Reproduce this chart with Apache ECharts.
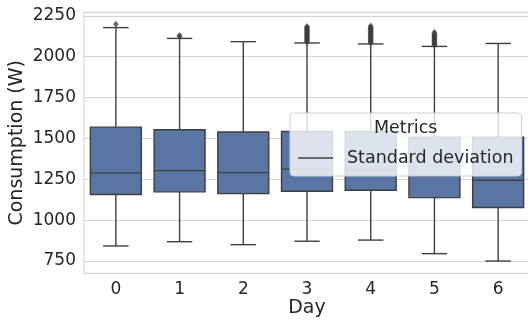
<!DOCTYPE html>
<html>
<head>
<meta charset="utf-8">
<script src="https://cdn.jsdelivr.net/npm/echarts@6/dist/echarts.min.js"></script>
<style>
html,body{margin:0;padding:0;background:#fff;}
#chart{width:528px;height:324px;}
</style>
</head>
<body>
<div id="chart"></div>
<script>
const days = ['0', '1', '2', '3', '4', '5', '6'];
const whiskerLow = [842, 868, 850, 871, 878, 795, 750];
const q1 = [1157, 1173, 1162, 1177, 1183, 1138, 1077];
const median = [1289, 1303, 1291, 1312, 1310, 1271, 1244];
const q3 = [1569, 1553, 1539, 1542, 1542, 1508, 1508];
const whiskerHigh = [2178, 2112, 2092, 2084, 2078, 2063, 2081];
const outliers0 = [2198];
const outliers1 = [2124, 2130];
const outliers2 = [];
const outliers3 = [2090, 2095, 2100, 2105, 2110, 2115, 2120, 2125, 2130, 2135, 2140, 2145, 2150, 2155, 2160, 2165, 2170, 2175, 2180, 2185];
const outliers4 = [2085, 2090, 2095, 2100, 2105, 2110, 2115, 2120, 2125, 2130, 2135, 2140, 2145, 2150, 2155, 2160, 2165, 2170, 2175, 2180, 2188];
const outliers5 = [2070, 2075, 2080, 2085, 2090, 2095, 2100, 2105, 2110, 2115, 2120, 2125, 2130, 2135, 2140, 2149];
const outliers6 = [];
const yTicks = [750, 1000, 1250, 1500, 1750, 2000, 2250];
const yMin = 674.7;
const yMax = 2271.7;

const allOutliers = [outliers0, outliers1, outliers2, outliers3, outliers4, outliers5, outliers6];
const boxData = days.map((d, i) => [i, whiskerLow[i], q1[i], median[i], q3[i], whiskerHigh[i]]);
const outlierData = [];
allOutliers.forEach((arr, i) => arr.forEach(v => outlierData.push([i, v])));

const lineCol = '#3f3f3f';
const boxCol = '#5875a4';
const textCol = '#262626';

function renderBox(params, api) {
  const x = api.value(0);
  const band = api.size([1, 0])[0];
  const bw = band * 0.8;
  const cw = band * 0.4;
  const pLow = api.coord([x, api.value(1)]);
  const pQ1 = api.coord([x, api.value(2)]);
  const pMed = api.coord([x, api.value(3)]);
  const pQ3 = api.coord([x, api.value(4)]);
  const pHigh = api.coord([x, api.value(5)]);
  const cx = pQ1[0];
  const ls = {stroke: lineCol, lineWidth: 1.4};
  return {
    type: 'group',
    children: [
      {type: 'line', shape: {x1: cx, y1: pQ1[1], x2: cx, y2: pLow[1]}, style: ls},
      {type: 'line', shape: {x1: cx, y1: pQ3[1], x2: cx, y2: pHigh[1]}, style: ls},
      {type: 'line', shape: {x1: cx - cw / 2, y1: pLow[1], x2: cx + cw / 2, y2: pLow[1]}, style: ls},
      {type: 'line', shape: {x1: cx - cw / 2, y1: pHigh[1], x2: cx + cw / 2, y2: pHigh[1]}, style: ls},
      {type: 'rect', shape: {x: cx - bw / 2, y: pQ3[1], width: bw, height: pQ1[1] - pQ3[1]},
        style: {fill: boxCol, stroke: lineCol, lineWidth: 1.4}},
      {type: 'line', shape: {x1: cx - bw / 2, y1: pMed[1], x2: cx + bw / 2, y2: pMed[1]}, style: ls}
    ]
  };
}

const chart = echarts.init(document.getElementById('chart'), null, {renderer: 'canvas'});
chart.setOption({
  animation: false,
  backgroundColor: '#ffffff',
  grid: {left: 84, top: 12.3, width: 446, bottom: 50.7, containLabel: false, outerBoundsMode: 'none',
    show: true, borderColor: '#cccccc', borderWidth: 1, backgroundColor: 'transparent'},
  xAxis: {
    type: 'category', data: days, boundaryGap: true,
    axisLine: {show: false}, axisTick: {show: false},
    axisLabel: {color: textCol, fontSize: 17, margin: 8, fontFamily: 'DejaVu Sans'},
    splitLine: {show: false},
    name: 'Day', nameLocation: 'middle', nameGap: 25, nameMoveOverlap: false,
    nameTextStyle: {color: textCol, fontSize: 19, fontFamily: 'DejaVu Sans'}
  },
  yAxis: {
    type: 'value', min: yMin, max: yMax,
    axisLine: {show: false},
    axisTick: {show: false, customValues: yTicks},
    axisLabel: {color: textCol, fontSize: 17, margin: 8, fontFamily: 'DejaVu Sans', customValues: yTicks,
      formatter: v => String(v)},
    splitLine: {show: true, lineStyle: {color: '#d5d5d5', width: 1}},
    name: 'Consumption (W)', nameLocation: 'middle', nameGap: 57, nameRotate: 90, nameMoveOverlap: false,
    nameTextStyle: {color: textCol, fontSize: 19, fontFamily: 'DejaVu Sans'}
  },
  legend: {
    show: true,
    left: 290, top: 113,
    padding: [36, 8, 9, 8],
    backgroundColor: 'rgba(255,255,255,0.8)',
    borderColor: '#d0d0d0', borderWidth: 1, borderRadius: 4,
    itemWidth: 35, itemHeight: 1.4,
    textStyle: {color: textCol, fontSize: 17.5, fontFamily: 'DejaVu Sans', padding: [0, 0, 0, 9]},
    data: [{name: 'Standard deviation', icon: 'rect'}],
    z: 10
  },
  graphic: [{
    type: 'text', x: 405.7, y: 128.5, z: 100,
    style: {text: 'Metrics', fill: textCol, fontSize: 17.5, fontFamily: 'DejaVu Sans',
      textAlign: 'center', textVerticalAlign: 'middle'}
  }],
  series: [
    {type: 'custom', name: 'boxes', renderItem: renderBox, data: boxData, encode: {x: 0, y: [1, 2, 3, 4, 5]}, z: 2},
    {type: 'scatter', name: 'outliers', data: outlierData, symbol: 'diamond', symbolSize: [5, 6],
      itemStyle: {color: lineCol, borderColor: lineCol, borderWidth: 0.5}, z: 3},
    {type: 'line', name: 'Standard deviation', data: [[0, null]], symbol: 'none', showSymbol: false,
      itemStyle: {color: lineCol}, lineStyle: {color: lineCol, width: 1.4}}
  ]
});
</script>
</body>
</html>
